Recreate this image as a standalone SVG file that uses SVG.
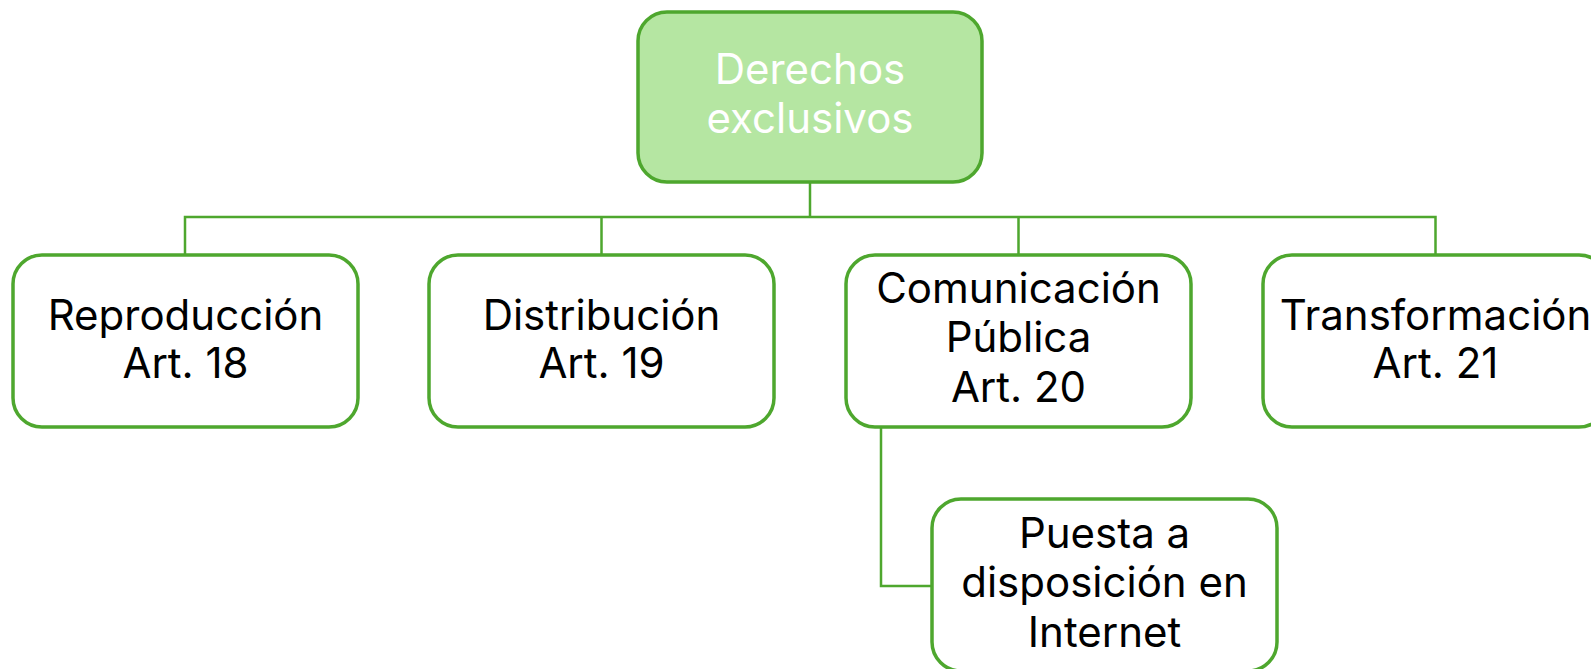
<svg xmlns="http://www.w3.org/2000/svg" width="1591" height="669" viewBox="0 0 1591 669">
<style>
.box{fill:#ffffff;stroke:#4ea72e;stroke-width:3.5}
.root{fill:#b5e6a2;stroke:#4ea72e;stroke-width:3.5}
.conn{fill:none;stroke:#4ea72e;stroke-width:2.5}
text{font-family:Inter,"Liberation Sans",sans-serif;font-size:42px;text-anchor:middle;fill:#000000}
.w{fill:#ffffff}
</style>
<rect width="1591" height="669" fill="#ffffff"/>
<g id="connectors">
<path class="conn" d="M810 183V217M185 255V217H1435.5V255M601.5 217V255M1018.5 217V255"/>
<path class="conn" d="M881 427V586H932"/>
</g>
<g id="node-root">
<rect class="root" x="638" y="12" width="344" height="170" rx="29"/>
<text class="w" x="810" y="84">Derechos</text>
<text class="w" x="810" y="133">exclusivos</text>
</g>
<g id="node-reproduccion">
<rect class="box" x="13" y="255" width="345" height="172" rx="29"/>
<text x="185.5" y="330">Reproducción</text>
<text x="185.5" y="378">Art. 18</text>
</g>
<g id="node-distribucion">
<rect class="box" x="429" y="255" width="345" height="172" rx="29"/>
<text x="601.5" y="330">Distribución</text>
<text x="601.5" y="378">Art. 19</text>
</g>
<g id="node-comunicacion">
<rect class="box" x="846" y="255" width="345" height="172" rx="29"/>
<text x="1018.5" y="303">Comunicación</text>
<text x="1018.5" y="352">Pública</text>
<text x="1018.5" y="402">Art. 20</text>
</g>
<g id="node-transformacion">
<rect class="box" x="1263" y="255" width="345" height="172" rx="29"/>
<text x="1435.5" y="330">Transformación</text>
<text x="1435.5" y="378">Art. 21</text>
</g>
<g id="node-puesta">
<rect class="box" x="932" y="499" width="345" height="172" rx="29"/>
<text x="1104.5" y="548">Puesta a</text>
<text x="1104.5" y="597">disposición en</text>
<text x="1104.5" y="647">Internet</text>
</g>
</svg>
